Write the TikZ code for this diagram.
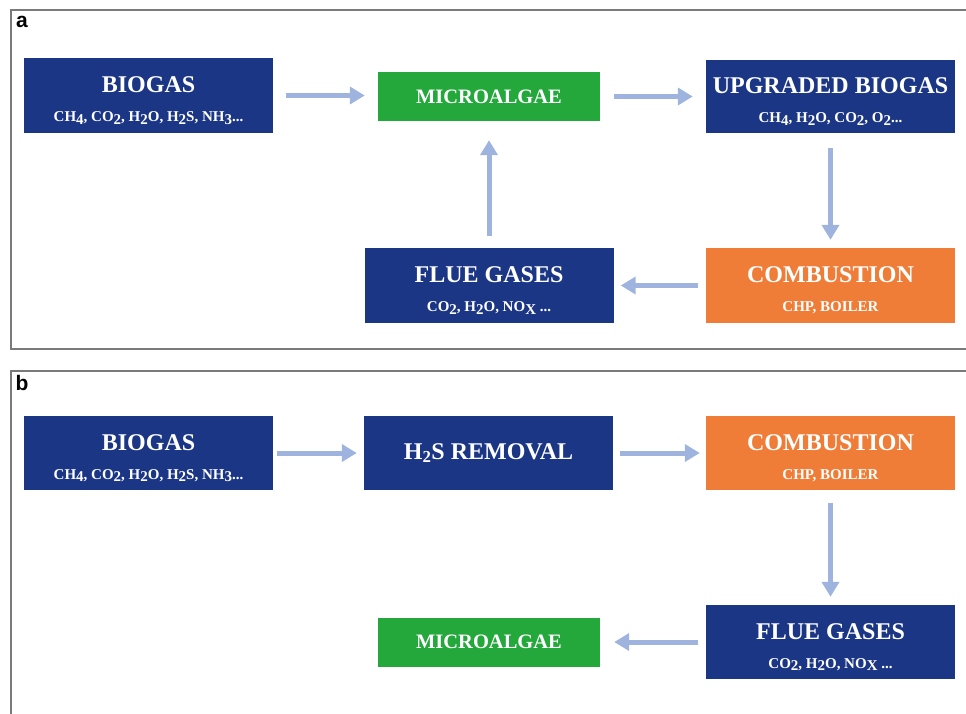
\documentclass[tikz,border=0pt]{standalone}
\usepackage{fontspec}
\setmainfont{Liberation Serif}
\setsansfont{Liberation Sans}
\usetikzlibrary{arrows.meta}
\definecolor{boxblue}{HTML}{1B3685}
\definecolor{boxgreen}{HTML}{24A83C}
\definecolor{boxorange}{HTML}{F07D37}
\definecolor{flow}{HTML}{9EB4DE}
\definecolor{frame}{HTML}{7A7A7A}
% lowered digit in chemical formulas (same size as the text)
\newcommand{\lo}[1]{\raisebox{-0.35ex}{#1}}
\tikzset{
  stage/.style={fill=#1, text=white, minimum width=249pt, minimum height=75pt,
    inner sep=0pt, align=center, font=\bfseries\fontsize{15}{29}\selectfont},
  algae/.style={fill=boxgreen, text=white, minimum width=222pt, minimum height=49pt,
    inner sep=0pt, font=\bfseries\fontsize{20.5}{24}\selectfont},
  flowarrow/.style={draw=flow, line width=5pt,
    -{Triangle[length=15pt,width=17pt]}},
  panel/.style={draw=frame, line width=2pt},
  panellabel/.style={font=\sffamily\bfseries\fontsize{21}{24}\selectfont, anchor=center}
}
% box heading; the strut keeps the two-line block slightly below centre
\newcommand{\ttl}[1]{{\fontsize{24}{29}\selectfont\rule{0pt}{26pt}#1}}
\newcommand{\heading}[1]{{\fontsize{24}{29}\selectfont #1}}
\begin{document}
\begin{tikzpicture}[x=1pt,y=-1pt]
\useasboundingbox (0,0) rectangle (966,713);
% panel frames
\draw[panel] (980,10) -- (11,10) -- (11,349) -- (980,349);
\draw[panel] (980,371) -- (11,371) -- (11,730);
\node[panellabel] (la) at (22,22) {a};
\node[panellabel] (lb) at (22,383) {b};

% ---- panel a: biogas upgrading with microalgae
\node[stage=boxblue] (a1) at (148.5,95.5)
  {\ttl{BIOGAS}\\CH\lo{4}, CO\lo{2}, H\lo{2}O, H\lo{2}S, NH\lo{3}...};
\node[algae] (a2) at (489,96.5) {MICROALGAE};
\node[stage=boxblue, minimum height=73pt] (a3) at (830.5,96.5)
  {\ttl{UPGRADED BIOGAS}\\CH\lo{4}, H\lo{2}O, CO\lo{2}, O\lo{2}...};
\node[stage=boxorange] (a4) at (830.5,285.5)
  {\ttl{COMBUSTION}\\CHP, BOILER};
\node[stage=boxblue] (a5) at (489,285.5)
  {\ttl{FLUE GASES}\\CO\lo{2}, H\lo{2}O, NO\lo{X} ...};

\draw[flowarrow] ([xshift=13pt]a1.east) -- ([xshift=-13pt]a1.east -| a2.west);
\draw[flowarrow] ([xshift=14pt]a2.east) -- ([xshift=-13pt]a2.east -| a3.west);
\draw[flowarrow] ([yshift=-15pt]a3.south) -- ([yshift=8pt]a4.north);
\draw[flowarrow] ([xshift=-8pt]a4.west) -- ([xshift=7pt]a5.east);
\draw[flowarrow] ([yshift=12pt]a5.north) -- ([yshift=-19pt]a2.south);

% ---- panel b: biogas combustion, flue gases to microalgae
\node[stage=boxblue, minimum height=74pt] (b1) at (148.5,453)
  {\ttl{BIOGAS}\\CH\lo{4}, CO\lo{2}, H\lo{2}O, H\lo{2}S, NH\lo{3}...};
\node[stage=boxblue, minimum height=74pt] (b2) at (488.5,453)
  {\heading{H\textsubscript{2}S REMOVAL}};
\node[stage=boxorange, minimum height=74pt] (b3) at (830.5,453)
  {\ttl{COMBUSTION}\\CHP, BOILER};
\node[stage=boxblue, minimum height=74pt] (b4) at (830.5,642)
  {\ttl{FLUE GASES}\\CO\lo{2}, H\lo{2}O, NO\lo{X} ...};
\node[algae] (b5) at (489,642) {MICROALGAE};

\draw[flowarrow] ([xshift=4pt]b1.east) -- ([xshift=-7pt]b2.west);
\draw[flowarrow] ([xshift=7pt]b2.east) -- ([xshift=-6pt]b3.west);
\draw[flowarrow] ([yshift=-13pt]b3.south) -- ([yshift=8pt]b4.north);
\draw[flowarrow] ([xshift=-8pt]b4.west) -- ([xshift=14pt]b5.east);
\end{tikzpicture}
\end{document}
